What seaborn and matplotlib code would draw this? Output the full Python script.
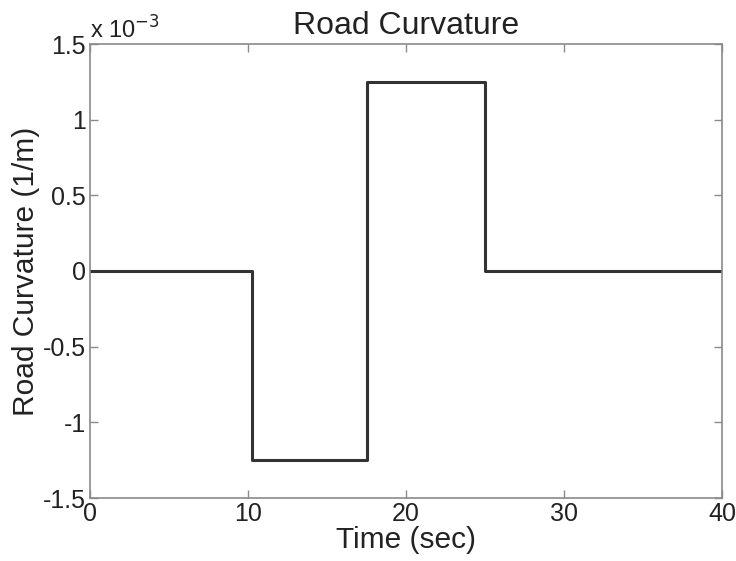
import matplotlib
matplotlib.use("Agg")
import matplotlib.pyplot as plt
import matplotlib.ticker as mticker
import numpy as np
import pandas as pd
import seaborn as sns

# Piecewise-constant road curvature profile (1/m)
time_breaks = [0, 10.25, 10.25, 17.5, 17.5, 25.0, 25.0, 40]
curvature = [0, 0, -1.25e-3, -1.25e-3, 1.25e-3, 1.25e-3, 0, 0]

x_ticks = [0, 10, 20, 30, 40]
y_ticks = [-1.5e-3, -1e-3, -0.5e-3, 0, 0.5e-3, 1e-3, 1.5e-3]

df = pd.DataFrame({"time": time_breaks, "curv": curvature})

sns.set_theme(style="white")
plt.rcParams["font.family"] = ["Liberation Sans", "DejaVu Sans"]

fig = plt.figure(figsize=(7.36, 5.61), dpi=100)
ax = fig.add_axes([90 / 736, 1 - 498 / 561, 632 / 736, 454 / 561])

sns.lineplot(data=df, x="time", y="curv", ax=ax, color="#333333",
             linewidth=2.2, sort=False, estimator=None)

ax.set_xlim(0, 40)
ax.set_ylim(-1.5e-3, 1.5e-3)
ax.set_xticks(x_ticks)
ax.set_yticks(y_ticks)
ax.yaxis.set_major_formatter(mticker.FuncFormatter(lambda v, p: f"{v * 1e3:g}"))

for s in ax.spines.values():
    s.set_color("#8a8a8a")
    s.set_linewidth(1.2)
    s.set_visible(True)

ax.tick_params(axis="both", which="both", direction="in", length=6,
               width=1, color="#8a8a8a", labelsize=18, labelcolor="#222222",
               top=True, right=True, bottom=True, left=True, pad=3)

ax.set_xlabel("Time (sec)", fontsize=21.5, color="#222222", labelpad=0)
ax.set_ylabel("Road Curvature (1/m)", fontsize=21.5, color="#222222", labelpad=2)
ax.set_title("Road Curvature", fontsize=23, color="#222222", pad=7)

ax.text(0.0, 1.0, r"x 10$^{-3}$", transform=ax.transAxes, fontsize=17,
        color="#222222", ha="left", va="bottom")

fig.savefig("out.png", dpi=100)
